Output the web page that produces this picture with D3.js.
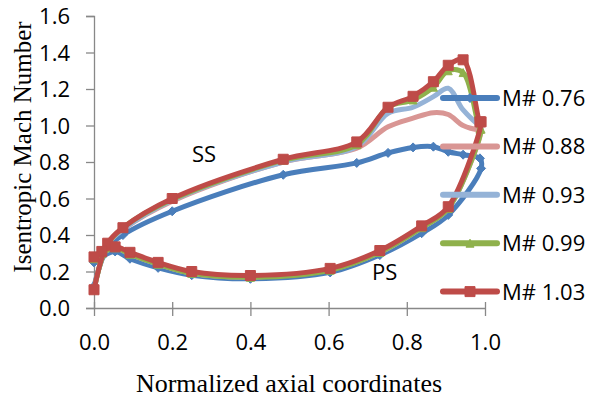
<!DOCTYPE html>
<html><head><meta charset="utf-8">
<script src="https://cdn.jsdelivr.net/npm/d3@7"></script>
<style>body{margin:0;background:#fff}svg{display:block}</style>
</head><body><div id="chart"></div>
<script>
// ---- data ----
const seriesNames = ["M# 0.76", "M# 0.88", "M# 0.93", "M# 0.99", "M# 1.03"];
const xSS = [0, 0.035, 0.074, 0.2, 0.484, 0.672, 0.752, 0.816, 0.868, 0.906, 0.944, 0.987];
const ssM076 = [0.12, 0.33, 0.40, 0.53, 0.73, 0.795, 0.85, 0.88, 0.884, 0.856, 0.84, 0.82];
const ssM088 = [0.10, 0.35, 0.43, 0.585, 0.80, 0.875, 0.993, 1.04, 1.07, 1.06, 1.0, 0.975];
const ssM093 = [0.10, 0.35, 0.43, 0.59, 0.80, 0.885, 1.067, 1.10, 1.158, 1.204, 1.085, 1.0];
const ssM099 = [0.10, 0.35, 0.44, 0.595, 0.81, 0.895, 1.10, 1.14, 1.21, 1.30, 1.29, 0.98];
const ssM103 = [0.10, 0.355, 0.44, 0.60, 0.815, 0.91, 1.10, 1.16, 1.24, 1.33, 1.36, 1.02];
const xPS = [0, 0.02, 0.054, 0.092, 0.164, 0.25, 0.4, 0.604, 0.731, 0.838, 0.906, 0.99];
const psM076 = [0.25, 0.28, 0.31, 0.27, 0.22, 0.18, 0.16, 0.195, 0.29, 0.41, 0.51, 0.765];
const psM088 = [0.27, 0.30, 0.33, 0.295, 0.24, 0.19, 0.17, 0.21, 0.305, 0.44, 0.545, 0.975];
const psM093 = [0.27, 0.30, 0.33, 0.295, 0.24, 0.19, 0.17, 0.21, 0.305, 0.44, 0.545, 1.0];
const psM099 = [0.27, 0.30, 0.33, 0.295, 0.24, 0.19, 0.168, 0.207, 0.305, 0.44, 0.545, 0.98];
const psM103 = [0.28, 0.31, 0.335, 0.305, 0.25, 0.20, 0.178, 0.217, 0.315, 0.45, 0.555, 1.02];
const xTicks = [0, 0.2, 0.4, 0.6, 0.8, 1.0];
const yTicks = [0, 0.2, 0.4, 0.6, 0.8, 1.0, 1.2, 1.4, 1.6];

const ssAll = [ssM076, ssM088, ssM093, ssM099, ssM103];
const psAll = [psM076, psM088, psM093, psM099, psM103];
const colors = ["#4a7ebb", "#d99694", "#95b3d7", "#8fb14c", "#be4b48"];
const markers = ["diamond", null, null, "triangle", "square"];

const W = 594, H = 401;
const svg = d3.select("#chart").append("svg").attr("width", W).attr("height", H);
const x = d3.scaleLinear().domain([0, 1]).range([94, 485]);
const y = d3.scaleLinear().domain([0, 1.6]).range([308, 16]);
const font = "'Open Sans', sans-serif";
const axisColor = "#888";

// axes
const gx = svg.append("g").attr("transform", `translate(0,${y(0)})`)
  .call(d3.axisBottom(x).tickValues(xTicks).tickFormat(d3.format(".1f")).tickSize(0).tickPadding(0));
gx.select(".domain").attr("stroke", axisColor).attr("stroke-width", 1.3);
gx.selectAll(".tick line").remove();
gx.selectAll(".tick").append("line").attr("y1", -6).attr("y2", 8).attr("stroke", axisColor).attr("stroke-width", 1.3);
gx.selectAll(".tick text").attr("y", 42).attr("dy", 0).style("font-family", font).style("font-size", "22px").attr("fill", "#000");

const gy = svg.append("g").attr("transform", `translate(${x(0)},0)`)
  .call(d3.axisLeft(y).tickValues(yTicks).tickFormat(d3.format(".1f")).tickSize(8).tickPadding(16));
gy.select(".domain").attr("stroke", axisColor).attr("stroke-width", 1.3);
gy.selectAll(".tick line").attr("stroke", axisColor).attr("stroke-width", 1.3);
gy.selectAll(".tick text").attr("dy", "0.36em").style("font-family", font).style("font-size", "22px").attr("fill", "#000");

// series
const line = d3.line().x(d => x(d[0])).y(d => y(d[1])).curve(d3.curveCatmullRom.alpha(0.5));
function markerPath(type, size) {
  const s = size;
  if (type === "square") return `M${-s/2},${-s/2}h${s}v${s}h${-s}Z`;
  if (type === "diamond") return `M0,${-s/2}L${s/2},0L0,${s/2}L${-s/2},0Z`;
  if (type === "triangle") return `M0,${-s/2}L${s/2},${s/2}L${-s/2},${s/2}Z`;
  return "";
}
const mSize = {square: 10, diamond: 9, triangle: 8};

seriesNames.forEach((name, i) => {
  const ss = xSS.map((xv, j) => [xv, ssAll[i][j]]);
  const ps = xPS.map((xv, j) => [xv, psAll[i][j]]);
  const pts = ss.concat(ps.slice().reverse());
  svg.append("path").datum(pts).attr("d", line)
    .attr("fill", "none").attr("stroke", colors[i]).attr("stroke-width", 5)
    .attr("stroke-linejoin", "round").attr("stroke-linecap", "round");
  if (markers[i]) {
    svg.append("g").selectAll("path").data(pts).join("path")
      .attr("transform", d => `translate(${x(d[0])},${y(d[1])})`)
      .attr("d", markerPath(markers[i], mSize[markers[i]]))
      .attr("fill", colors[i]).attr("stroke", colors[i]).attr("stroke-width", 1);
  }
});

// labels
svg.append("text").attr("x", 192).attr("y", 162).text("SS")
  .style("font-family", font).style("font-size", "22px");
svg.append("text").attr("x", 372).attr("y", 280).text("PS")
  .style("font-family", font).style("font-size", "22px");

// legend
seriesNames.forEach((name, i) => {
  const cy = 98 + i * 48.4;
  const g = svg.append("g");
  g.append("line").attr("x1", 443).attr("x2", 497).attr("y1", cy).attr("y2", cy)
    .attr("stroke", colors[i]).attr("stroke-width", 6).attr("stroke-linecap", "round");
  if (markers[i]) {
    g.append("path").attr("transform", `translate(470,${cy})`)
      .attr("d", markerPath(markers[i], mSize[markers[i]]))
      .attr("fill", colors[i]).attr("stroke", colors[i]);
  }
  g.append("text").attr("x", 502).attr("y", cy).attr("dy", "0.36em").text(name)
    .style("font-family", font).style("font-size", "22px");
});

// axis titles
svg.append("text").attr("x", 289).attr("y", 392).attr("text-anchor", "middle")
  .text("Normalized axial coordinates")
  .style("font-family", "'Liberation Serif', 'Times New Roman', serif").style("font-size", "26px");
svg.append("text").attr("transform", "translate(31,147) rotate(-90)").attr("text-anchor", "middle")
  .text("Isentropic Mach Number")
  .style("font-family", "'Liberation Serif', 'Times New Roman', serif").style("font-size", "25px");
</script></body></html>
